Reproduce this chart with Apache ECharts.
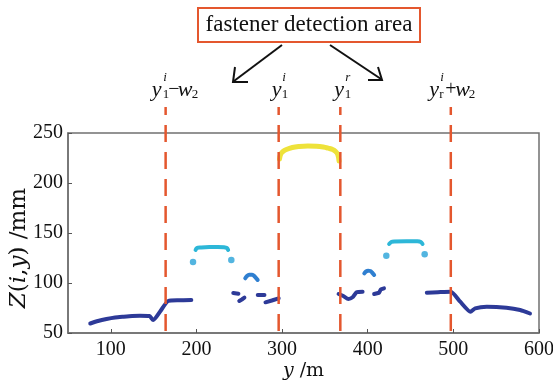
<!DOCTYPE html>
<html>
<head>
<meta charset="utf-8">
<script src="https://cdn.jsdelivr.net/npm/echarts@6/dist/echarts.min.js"></script>
<style>
html,body{margin:0;padding:0;background:#fff;}
#chart{width:553px;height:380px;}
</style>
</head>
<body>
<div id="chart"></div>
<script>
// ---------- data ----------
const xTickValues = [100, 200, 300, 400, 500, 600];

// dark-blue rail profile pieces  [y (m), Z (mm)]
const profileLeft = [[76,59.5],[85,62],[95,64],[105,65.5],[115,66.3],[125,67],[134,67.3],[145,67],[149.5,63],[158,72],[167,82],[180,82.7],[194,83]];
const profileB = [[243,90],[249,89.3]];
const profileC = [[250,82],[253,83.5],[256,85.3]];
const profileD = [[271.6,88],[279.4,88]];
const profileE = [[280.6,80.7],[288,82.5],[296,84.7]];
const profileF = [[366,89],[371.5,87],[377.5,84],[383,86.3],[387,90.7],[394,91.3]];
const profileG = [[407.5,89],[413.3,90.3],[415.3,93.7],[419,94.7]];
const profileRight = [[469,90.3],[482,90.8],[497,91.3],[508,81.3],[520,71.3],[525.5,74.7],[539,76.3],[562,75.3],[578,73],[589.5,69.5]];

// medium-blue small arcs
const arcLeft = [[257,104.7],[259,107],[261.5,108.3],[265,108.3],[268,106.5],[271.5,103]];
const arcRight = [[396,109.7],[398,111.5],[400.5,112.3],[403,112],[405,110.5],[407.5,108]];

// cyan plateaus and isolated dots
const plateauLeft = [[199,133],[200.5,135],[205,135.5],[215,136],[225,136],[232,135.7],[235.5,135],[237,133]];
const plateauRight = [[425,139],[427.5,141],[431,141.5],[445,141.8],[458,141.7],[462,141],[464,139]];
const cyanDots = [[196,121],[240.7,123],[421.7,127.3],[466.5,128.7]];

// yellow top (rail head)
const railHead = [[297,224],[298.5,229],[301,231.5],[305,233.5],[312,235.5],[320,236.5],[330,237],[340,236.8],[348,236],[354,234.8],[359,233.5],[362.5,231.5],[365,228.5],[366.5,222]];

// dashed division positions (y, m)
const dividerPositions = [164, 296, 368, 497];

// ---------- styling ----------
const NAVY = '#2d3a98';
const MIDBLUE = '#2f7fd0';
const CYAN = '#2db7d8';
const DOTCYAN = '#28a3d8';
const YELLOW = '#eee23a';
const RED = '#e4572e';
const SERIF = '"Liberation Serif", "Times New Roman", serif';
const WIDE_SERIF = '"DejaVu Serif", serif';

// label pieces for each divider: [text, dx, dy, fontSize, italic]
const dividerLabels = [
  [['y',-14,0,22,true],['i',-2.5,-12,13,true],['1',-3,5,13,false],['\u2212',2.5,0,20,false],['w',12,0,22,true],['2',26,5,13,false]],
  [['y',-7,0,22,true],['i',3.5,-12,13,true],['1',3,5,13,false]],
  [['y',-6,0,22,true],['r',5,-12,13,true],['1',4.5,5,13,false]],
  [['y',-21.5,0,22,true],['i',-10.5,-12,13,true],['r',-11.5,5,13,false],['+',-5.5,0,20,false],['w',4.5,0,22,true],['2',18,5,13,false]]
];
const DASH_TOP = 276;   // Z value where the dashed lines end (above the plot)
const LABEL_Z = 293;    // Z value of label line

function lineSeries(data, color, width, smooth) {
  return {
    type: 'line', data: data, showSymbol: false, symbol: 'none',
    smooth: smooth || 0, silent: true,
    lineStyle: { color: color, width: width, cap: 'round', join: 'round' },
    z: 3
  };
}

const series = [
  lineSeries(profileLeft, NAVY, 4, 0.2),
  lineSeries(profileB, NAVY, 4),
  lineSeries(profileC, NAVY, 4),
  lineSeries(profileD, NAVY, 4),
  lineSeries(profileE, NAVY, 4),
  lineSeries(profileF, NAVY, 4, 0.2),
  lineSeries(profileG, NAVY, 4),
  lineSeries(profileRight, NAVY, 4, 0.2),
  lineSeries(arcLeft, MIDBLUE, 4, 0.4),
  lineSeries(arcRight, MIDBLUE, 4, 0.4),
  lineSeries(plateauLeft, CYAN, 4, 0.3),
  lineSeries(plateauRight, CYAN, 4, 0.3),
  lineSeries(railHead, YELLOW, 5, 0.4),
  {
    type: 'scatter', data: cyanDots, symbolSize: 6.5, silent: true,
    itemStyle: { color: DOTCYAN }, z: 3
  },
  {
    type: 'custom', clip: false, silent: true, z: 5,
    data: dividerPositions.map((x, i) => [x, 50, i]),
    encode: { x: 0, y: 1 },
    renderItem: function (params, api) {
      const x = api.value(0);
      const idx = api.value(2);
      const top = api.coord([x, DASH_TOP]);
      const bot = api.coord([x, 50]);
      const lab = api.coord([x, LABEL_Z]);
      const children = [{
        type: 'line',
        shape: { x1: top[0], y1: top[1], x2: bot[0], y2: bot[1] },
        style: { stroke: RED, lineWidth: 2.5, lineDash: [17, 10], lineDashOffset: 9 }
      }];
      dividerLabels[idx].forEach(function (p) {
        children.push({
          type: 'text',
          x: lab[0] + p[1], y: lab[1] + p[2],
          style: {
            text: p[0], fill: '#111',
            fontFamily: SERIF, fontSize: p[3],
            fontStyle: p[4] ? 'italic' : 'normal',
            align: 'left', verticalAlign: 'middle'
          }
        });
      });
      return { type: 'group', children: children };
    }
  }
];

const chart = echarts.init(document.getElementById('chart'), null, { renderer: 'canvas' });
chart.setOption({
  animation: false,
  backgroundColor: '#fff',
  grid: { left: 68, right: 14, top: 133, bottom: 47, show: true, borderColor: '#707070', borderWidth: 1.5, backgroundColor: 'transparent', containLabel: false, outerBoundsMode: 'none' },
  xAxis: {
    type: 'value', min: 50, max: 600,
    name: '{i|y}{n| /m}', nameLocation: 'middle', nameGap: 29, nameMoveOverlap: false,
    nameTextStyle: {
      rich: {
        i: { fontFamily: WIDE_SERIF, fontStyle: 'italic', fontSize: 19, color: '#111' },
        n: { fontFamily: WIDE_SERIF, fontSize: 19, color: '#111' }
      }
    },
    axisLine: { show: true, lineStyle: { color: '#707070', width: 1.5 } },
    axisTick: { show: true, inside: true, length: 4, customValues: xTickValues, lineStyle: { color: '#555' } },
    axisLabel: { customValues: xTickValues, fontFamily: SERIF, fontSize: 20, color: '#111', margin: 7 },
    splitLine: { show: false }
  },
  yAxis: {
    type: 'value', min: 50, max: 250, interval: 50,
    name: '{i|Z}{n|(}{i|i}{n|,}{i|y}{n|) /mm}', nameLocation: 'middle', nameGap: 37, nameRotate: 90, nameMoveOverlap: false,
    nameTextStyle: {
      padding: [0, 30, 0, 0],
      rich: {
        i: { fontFamily: WIDE_SERIF, fontStyle: 'italic', fontSize: 23, color: '#111' },
        n: { fontFamily: WIDE_SERIF, fontSize: 23, color: '#111' }
      }
    },
    axisLine: { show: true, lineStyle: { color: '#707070', width: 1.5 } },
    axisTick: { show: true, inside: true, length: 4, lineStyle: { color: '#555' } },
    axisLabel: { fontFamily: SERIF, fontSize: 20, color: '#111', margin: 5 },
    splitLine: { show: false }
  },
  graphic: [
    {
      type: 'rect', shape: { x: 198, y: 8, width: 222, height: 34 },
      style: { fill: '#fff', stroke: RED, lineWidth: 2 }
    },
    {
      type: 'text', x: 309, y: 25,
      style: { text: 'fastener detection area', fontFamily: SERIF, fontSize: 23, fill: '#111', align: 'center', verticalAlign: 'middle' }
    },
    { type: 'line', shape: { x1: 282, y1: 45, x2: 234, y2: 81 }, style: { stroke: '#111', lineWidth: 2 } },
    { type: 'polyline', shape: { points: [[235, 67], [233, 82], [248, 82]] }, style: { stroke: '#111', lineWidth: 2, fill: null } },
    { type: 'line', shape: { x1: 330, y1: 45, x2: 381, y2: 79 }, style: { stroke: '#111', lineWidth: 2 } },
    { type: 'polyline', shape: { points: [[368, 80], [382, 80], [378, 67]] }, style: { stroke: '#111', lineWidth: 2, fill: null } }
  ],
  series: series
});
</script>
</body>
</html>
